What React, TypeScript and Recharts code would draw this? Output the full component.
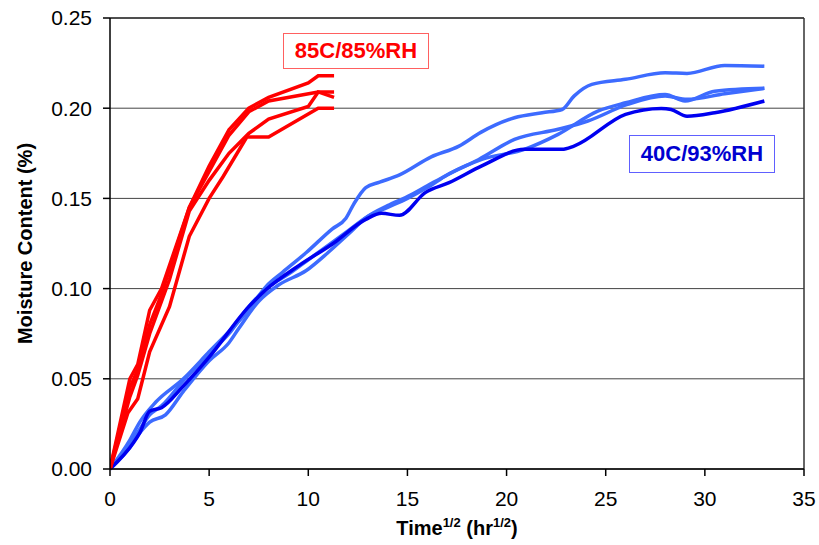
import React from 'react';
import { LineChart, Line, XAxis, YAxis, CartesianGrid, ReferenceLine, Label } from 'recharts';

// time^1/2 (hr^1/2), moisture content (%)
const red1 = [[0, 0], [1, 0.05], [1.4, 0.058], [2, 0.088], [2.6, 0.1], [4, 0.145], [5, 0.165], [6, 0.185], [7, 0.198], [8, 0.204], [10.5, 0.209], [11.3, 0.209]];
const red2 = [[0, 0], [1, 0.045], [1.4, 0.055], [2, 0.08], [2.6, 0.097], [4, 0.145], [5, 0.168], [6, 0.188], [7, 0.2], [8, 0.206], [10, 0.214], [10.5, 0.218], [11.3, 0.218]];
const red3 = [[0, 0], [1, 0.04], [1.4, 0.052], [2, 0.075], [3, 0.105], [4, 0.143], [5, 0.16], [6, 0.175], [7, 0.186], [8, 0.194], [10, 0.201], [10.5, 0.209], [11.3, 0.206]];
const red4 = [[0, 0], [0.9, 0.031], [1.4, 0.039], [2, 0.065], [3, 0.09], [4, 0.129], [5, 0.15], [5.7, 0.162], [6.9, 0.184], [8, 0.184], [10.5, 0.2], [11.3, 0.2]];

const blueTop = [[0, 0], [1, 0.016], [1.5, 0.026], [2.3, 0.037], [3.7, 0.05], [5, 0.065], [6.9, 0.087], [7.9, 0.1015], [8.7, 0.109], [9.9, 0.12], [11.2, 0.133], [11.9, 0.139], [12.3, 0.147], [12.9, 0.156], [13.6, 0.159], [14.6, 0.163], [16.2, 0.173], [17.6, 0.179], [18.7, 0.1866], [20.4, 0.1947], [21.8, 0.1975], [22.8, 0.1993], [23.4, 0.2067], [24.3, 0.2132], [26, 0.216], [28, 0.2196], [29.1, 0.2193], [31, 0.2237], [33, 0.2233]];
const blueMid = [[0, 0], [1, 0.014], [1.5, 0.022], [2, 0.03], [2.6, 0.035], [3.7, 0.049], [5, 0.064], [6, 0.075], [7, 0.09], [8, 0.101], [9, 0.108], [10, 0.116], [11, 0.124], [12, 0.132], [13, 0.14], [14, 0.145], [15, 0.15], [16, 0.156], [17, 0.163], [18.6, 0.1716], [20.4, 0.1827], [22.6, 0.1883], [24.1, 0.1929], [26.1, 0.2021], [28, 0.2067], [29.1, 0.2049], [31, 0.208], [33, 0.211]];
const blueLow = [[0, 0], [1, 0.012], [1.5, 0.02], [2, 0.026], [2.8, 0.03], [3.7, 0.043], [5, 0.06], [6, 0.07], [6.5, 0.078], [7.5, 0.093], [8.5, 0.102], [9.9, 0.11], [11, 0.12], [12, 0.13], [13, 0.14], [14, 0.146], [15, 0.151], [16, 0.157], [17, 0.163], [18.75, 0.1716], [20.9, 0.1772], [22.6, 0.1855], [24.6, 0.1984], [26, 0.203], [28, 0.2076], [29, 0.204], [30.5, 0.2094], [33, 0.211]];
const blueDark = [[0, 0], [1.2, 0.0148], [1.5, 0.02], [2, 0.032], [2.6, 0.034], [3.7, 0.046], [5, 0.062], [7, 0.09], [7.9, 0.0997], [9.5, 0.1126], [11.2, 0.1246], [12.9, 0.1384], [13.7, 0.1417], [14.6, 0.1406], [15.9, 0.1532], [17.1, 0.1587], [18.75, 0.168], [20.9, 0.1772], [22.8, 0.1772], [23.4, 0.179], [26, 0.1966], [27.8, 0.1999], [28.3, 0.1993], [29.1, 0.1956], [30.5, 0.1975], [33, 0.204]];

const xTicks = [0, 5, 10, 15, 20, 25, 30, 35];
const yTicks = [0, 0.05, 0.1, 0.15, 0.2, 0.25];

const toPoints = (arr: number[][]) => arr.map(([x, y]) => ({ x, y }));

const redSeries = [red1, red2, red3, red4];
const blueSeries = [
  { data: blueTop, color: '#3d6bff' },
  { data: blueMid, color: '#3d6bff' },
  { data: blueLow, color: '#3d6bff' },
  { data: blueDark, color: '#0000f0' },
];

const FONT = '"Liberation Sans", Arial, sans-serif';

const XTitle = (props: any) => {
  const { viewBox } = props;
  const cx = viewBox.x + viewBox.width / 2;
  const y = viewBox.y + 66;
  return (
    <text x={cx} y={y} textAnchor="middle" fontFamily={FONT} fontWeight="bold" fontSize={20} fill="#000">
      Time<tspan fontSize={13} dy={-8}>1/2</tspan>
      <tspan dy={8}> (hr</tspan>
      <tspan fontSize={13} dy={-8}>1/2</tspan>
      <tspan dy={8}>)</tspan>
    </text>
  );
};

const YTitle = (props: any) => {
  const { viewBox } = props;
  const cy = viewBox.y + viewBox.height / 2;
  const x = 32;
  return (
    <text x={x} y={cy} transform={`rotate(-90, ${x}, ${cy})`} textAnchor="middle" fontFamily={FONT} fontWeight="bold" fontSize={20} fill="#000">
      Moisture Content (%)
    </text>
  );
};

const boxStyle: React.CSSProperties = {
  position: 'absolute',
  fontFamily: FONT,
  fontWeight: 'bold',
  fontSize: 22,
  background: '#fff',
  boxSizing: 'border-box',
  display: 'flex',
  alignItems: 'center',
  justifyContent: 'center',
};

export default function App() {
  return (
    <div style={{ position: 'absolute', left: 0, top: 0, width: 819, height: 545, background: '#fff' }}>
      <LineChart width={819} height={545} margin={{ top: 18, right: 15, bottom: 26, left: 50 }}>
        <CartesianGrid vertical={false} stroke="#444" strokeWidth={1} />
        <XAxis
          type="number"
          dataKey="x"
          domain={[0, 35]}
          ticks={xTicks}
          interval={0}
          height={50}
          stroke="#000"
          strokeWidth={1.5}
          tickSize={7}
          tickMargin={15}
          tick={{ fontSize: 21, fill: '#000', fontFamily: FONT }}
          allowDataOverflow
        >
          <Label content={<XTitle />} />
        </XAxis>
        <YAxis
          type="number"
          dataKey="y"
          domain={[0, 0.25]}
          ticks={yTicks}
          interval={0}
          width={60}
          stroke="#000"
          strokeWidth={1.5}
          tickSize={7}
          tickMargin={11}
          tickFormatter={(v: number) => v.toFixed(2)}
          tick={{ fontSize: 21, fill: '#000', fontFamily: FONT }}
        >
          <Label content={<YTitle />} />
        </YAxis>
        <ReferenceLine x={35} stroke="#333" strokeWidth={1.5} />
        <ReferenceLine y={0.25} stroke="#333" strokeWidth={1.5} />
        {blueSeries.map((s, i) => (
          <Line
            key={`b${i}`}
            data={toPoints(s.data)}
            dataKey="y"
            type="monotone"
            stroke={s.color}
            strokeWidth={3.5}
            dot={false}
            isAnimationActive={false}
          />
        ))}
        {redSeries.map((s, i) => (
          <Line
            key={`r${i}`}
            data={toPoints(s)}
            dataKey="y"
            type="linear"
            stroke="#ff0000"
            strokeWidth={3.5}
            dot={false}
            isAnimationActive={false}
          />
        ))}
      </LineChart>
      <div style={{ ...boxStyle, left: 283, top: 33, width: 146, height: 36, border: '1px solid #ff6060', color: '#ff0000' }}>
        85C/85%RH
      </div>
      <div style={{ ...boxStyle, left: 629, top: 135, width: 146, height: 38, border: '1px solid #6060ff', color: '#0000d0' }}>
        40C/93%RH
      </div>
    </div>
  );
}
